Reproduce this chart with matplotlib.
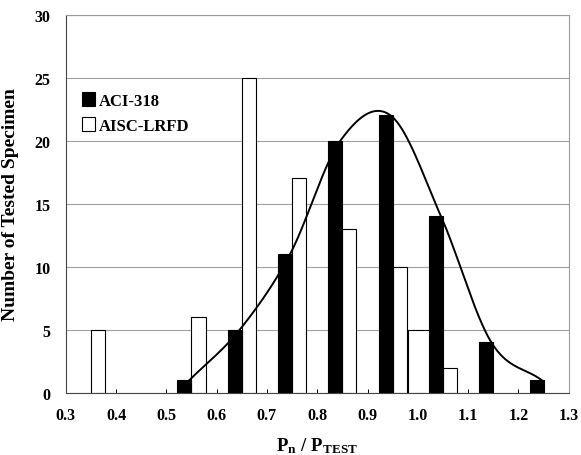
import numpy as np
import matplotlib
matplotlib.use('Agg')
import matplotlib.pyplot as plt
from matplotlib.patches import Patch

plt.rcParams['font.family'] = ['Liberation Serif', 'DejaVu Serif']
plt.rcParams['font.weight'] = 'bold'
plt.rcParams['mathtext.fontset'] = 'custom'
plt.rcParams['mathtext.rm'] = 'Liberation Serif:bold'
plt.rcParams['mathtext.bf'] = 'Liberation Serif:bold'
plt.rcParams['mathtext.it'] = 'Liberation Serif:bold'

# Pn/Ptest bins and counts
aci_x = [0.55, 0.65, 0.75, 0.85, 0.95, 1.05, 1.15, 1.25]
aci_n = [1, 5, 11, 20, 22, 14, 4, 1]

aisc_x = [0.35, 0.55, 0.65, 0.75, 0.85, 0.95, 0.98, 1.05]
aisc_n = [5, 6, 25, 17, 13, 10, 5, 2]

xticks = [0.3, 0.4, 0.5, 0.6, 0.7, 0.8, 0.9, 1.0, 1.1, 1.2, 1.3]
yticks = [0, 5, 10, 15, 20, 25, 30]


def smooth(x, y, n=40):
    # cardinal (Catmull-Rom) spline through the points
    x = np.asarray(x, float)
    y = np.asarray(y, float)
    m = np.zeros_like(y)
    m[1:-1] = (y[2:] - y[:-2]) / (x[2:] - x[:-2])
    m[0] = (y[1] - y[0]) / (x[1] - x[0])
    m[-1] = (y[-1] - y[-2]) / (x[-1] - x[-2])
    xs, ys = [], []
    for i in range(len(x) - 1):
        h = x[i + 1] - x[i]
        t = np.linspace(0, 1, n)
        h00 = 2 * t**3 - 3 * t**2 + 1
        h10 = t**3 - 2 * t**2 + t
        h01 = -2 * t**3 + 3 * t**2
        h11 = t**3 - t**2
        xs.append(x[i] + t * h)
        ys.append(h00 * y[i] + h10 * h * m[i] + h01 * y[i + 1] + h11 * h * m[i + 1])
    return np.concatenate(xs), np.concatenate(ys)


fig = plt.figure(figsize=(5.81, 4.56), dpi=100)
ax = fig.add_axes([0.113, 0.1366, 0.866, 0.829])

w = 0.028
aisc_w = [w] * len(aisc_x)
aisc_w[6] = 0.045
ax.bar(aisc_x, aisc_n, width=aisc_w, align='edge', facecolor='white',
       edgecolor='black', linewidth=0.8, zorder=2)
ax.bar(np.array(aci_x) - w, aci_n, width=w, align='edge', facecolor='black',
       edgecolor='black', linewidth=0.8, zorder=3)

# fitted curve through the ACI bar tops
cx, cy = smooth(np.array(aci_x) - 0.004, aci_n)
ax.plot(cx, cy, color='black', linewidth=1.4, zorder=4)

ax.set_xlim(0.3, 1.3)
ax.set_ylim(0, 30)
ax.set_xticks(xticks)
ax.set_xticklabels(['%.1f' % v for v in xticks])
ax.set_yticks(yticks)
ax.tick_params(axis='x', direction='in', length=3, width=0.7, pad=10, labelsize=11.5)
ax.tick_params(axis='y', length=0, pad=11, labelsize=11.5)

ax.set_axisbelow(True)
ax.yaxis.grid(True, color='#a0a0a0', linewidth=0.8)

for side in ['left', 'bottom']:
    ax.spines[side].set_color('#444444')
    ax.spines[side].set_linewidth(0.8)
for side in ['top', 'right']:
    ax.spines[side].set_color('#9a9a9a')
    ax.spines[side].set_linewidth(0.8)

ax.set_ylabel('Number of Tested Specimen', fontsize=14, fontweight='bold')
ax.yaxis.set_label_coords(-0.092, 0.5)
ax.set_xlabel(r'$\mathbf{P_n\ /\ P_{TEST}}$', fontsize=13.5)
ax.xaxis.set_label_coords(0.5, -0.112)

handles = [Patch(facecolor='black', edgecolor='black', linewidth=0.8),
           Patch(facecolor='white', edgecolor='black', linewidth=0.8)]
ax.legend(handles, ['ACI-318', 'AISC-LRFD'], loc='upper left',
          bbox_to_anchor=(0.0, 0.84), frameon=False, fontsize=12,
          handlelength=0.75, handleheight=0.9, handletextpad=0.25,
          labelspacing=0.5, borderaxespad=0.6)

fig.savefig('out.png', dpi=100)
